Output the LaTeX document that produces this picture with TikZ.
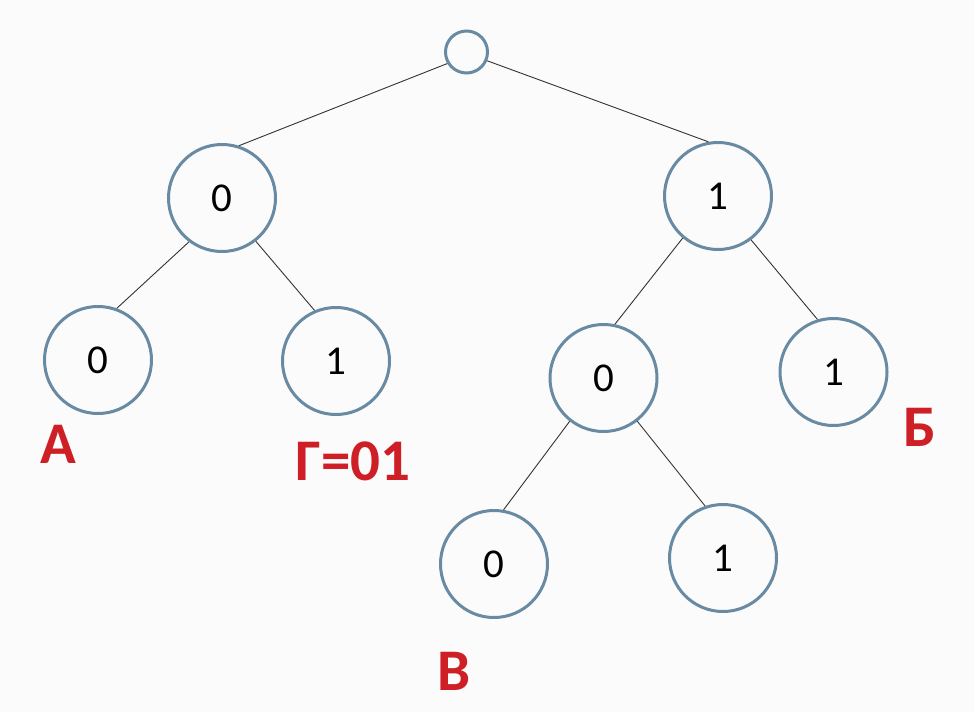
\documentclass[tikz,border=0pt]{standalone}
\usepackage{fontspec}
\setmainfont{Carlito}
\definecolor{ring}{RGB}{104,138,163}
\definecolor{halo}{RGB}{196,222,240}
\definecolor{mark}{RGB}{206,30,38}
\definecolor{paper}{RGB}{251,251,251}
\tikzset{
  bit/.style={circle,draw=ring,line width=3pt,fill=paper,minimum size=107pt,inner sep=0pt,
    font=\fontsize{41}{42}\selectfont},
  edge/.style={line width=0.9pt,draw=black!80},
  tag/.style={text=mark,font=\bfseries\fontsize{59}{60}\selectfont,inner sep=0pt}
}
\begin{document}
\begin{tikzpicture}[x=1pt,y=-1pt]
  \fill[paper] (0,0) rectangle (974,712);
  \useasboundingbox (0,0) rectangle (974,712);
  \node[bit,minimum size=42pt] (root) at (466.5,52) {};
  \node[bit] (n0)   at (222,198)   {0};
  \node[bit] (n1)   at (718,196)   {1};
  \node[bit] (n00)  at (98,360)    {0};
  \node[bit] (n01)  at (336,361)   {1};
  \node[bit] (n10)  at (603.5,378) {0};
  \node[bit] (n11)  at (833.5,372) {1};
  \node[bit] (n100) at (494,564)   {0};
  \node[bit] (n101) at (723,558)   {1};
  \foreach \a/\b in {root.211/n0.72,root.337/n1.100,n0.233/n00.70,n0.308/n01.113,
                     n1.230/n10.78,n1.307/n11.107,n10.232/n100.80,n10.308/n101.109}
    \draw[edge] (\a) -- (\b);
  \node[tag] (a) at (58,444)  {А};
  \node[tag] (g) at (353,461) {Г=01};
  \node[tag] (b) at (920,427) {Б};
  \node[tag] (v) at (454,671) {В};
\end{tikzpicture}
\end{document}
